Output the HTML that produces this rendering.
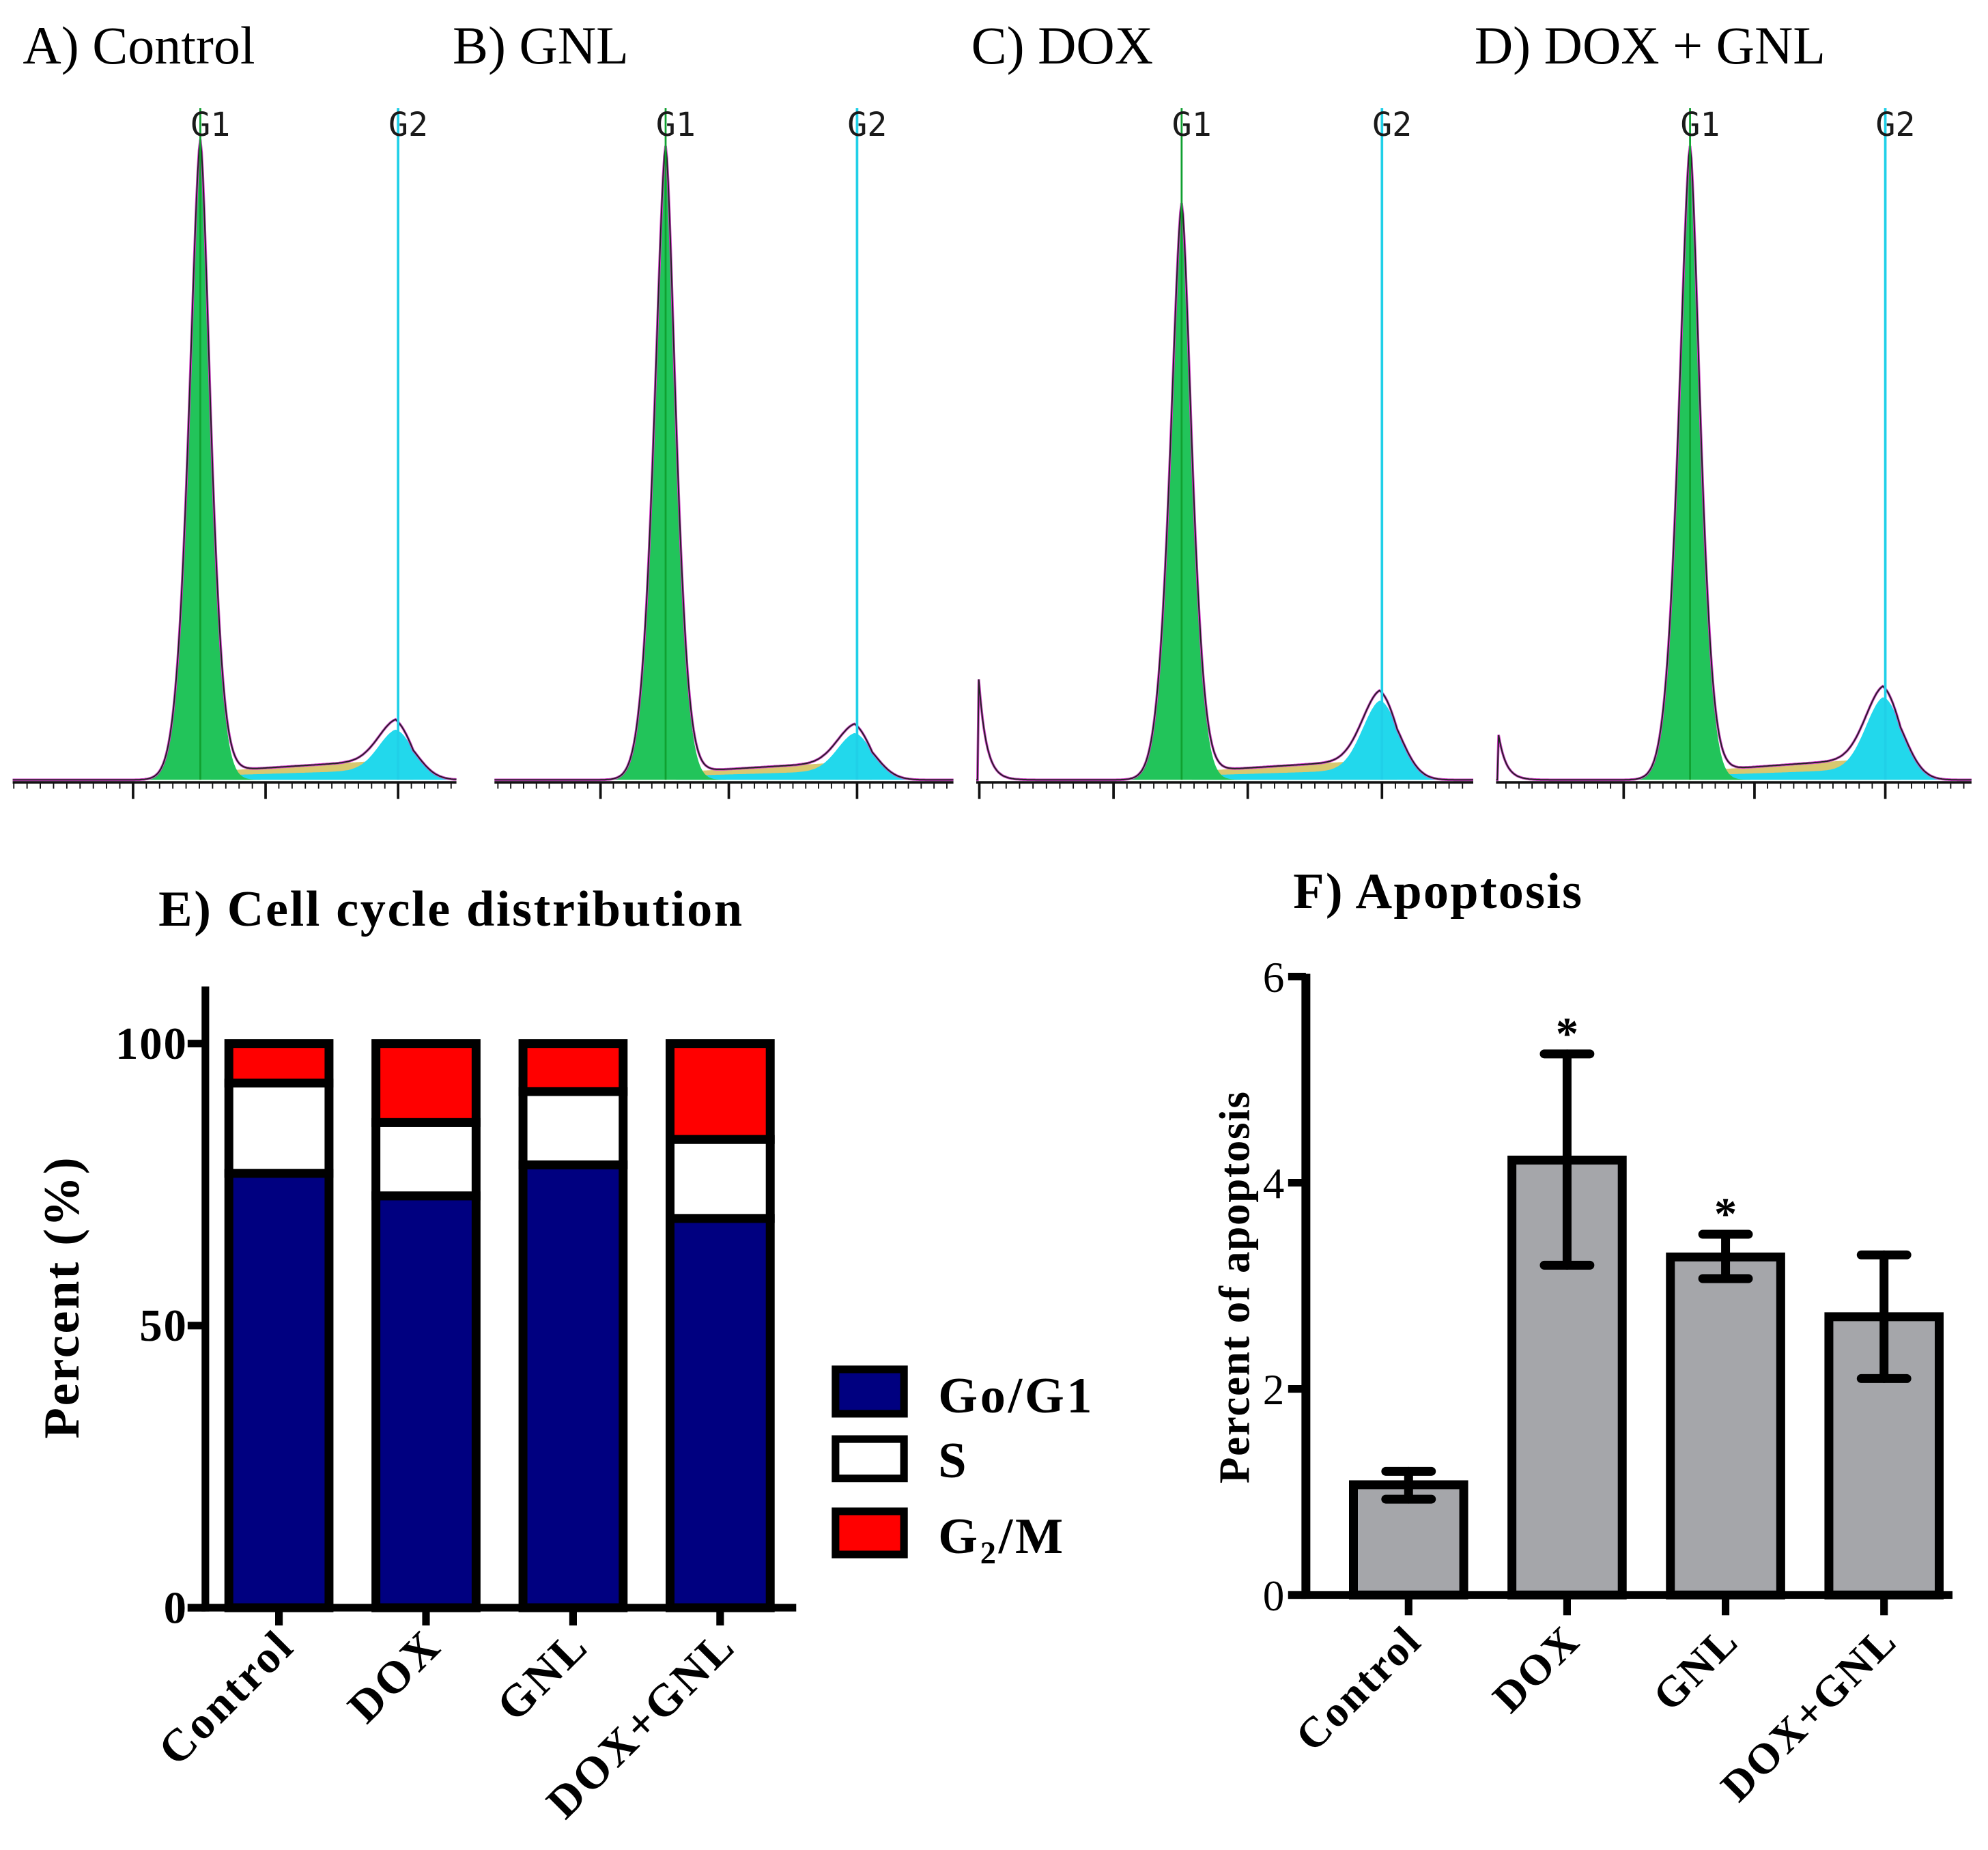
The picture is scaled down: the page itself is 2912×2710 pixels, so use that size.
<!DOCTYPE html>
<html><head><meta charset="utf-8"><style>
html,body{margin:0;padding:0;background:#fff}
svg{display:block}
text{font-family:"Liberation Serif",serif}
text.mono{font-family:"DejaVu Sans Mono",monospace}
</style></head><body>
<svg id="fig" xmlns="http://www.w3.org/2000/svg" width="2912" height="2710" viewBox="0 0 1568 1459">
<rect width="1568" height="1459" fill="#fff"/>
<text x="18" y="50" font-size="42">A) Control</text>
<text x="357" y="50" font-size="42">B) GNL</text>
<text x="766" y="50" font-size="42">C) DOX</text>
<text x="1163" y="50" font-size="42">D) DOX + GNL</text>
<g id="hist"></g>
<text x="125" y="730" font-size="40" font-weight="bold" letter-spacing="1.4">E) Cell cycle distribution</text>
<g id="chartE"></g>
<text x="1020" y="716" font-size="40" font-weight="bold" letter-spacing="1.2">F) Apoptosis</text>
<g id="chartF"></g>
</svg>
<script>
// Histogram panels (flow cytometry)
const histNames = ['control','gnl','dox','dox-gnl'];
const histX0 = [10, 390, 770, 1180];
const histX1 = [360, 752, 1162, 1555];
const histG1 = [158, 525, 932, 1333];
const histG2 = [314, 676, 1090, 1487];
const histG1Top = [110, 115, 160, 115];
const histG2Top = [583, 585, 560, 558];
const histSLevel = [604, 605, 604, 603];
const histDebris = [0, 0, 548, 585];
// Cell cycle distribution (%)
const eCats = ['Control','DOX','GNL','DOX+GNL'];
const eG1 = [77, 73, 78.5, 69];
const eS = [16, 13, 13, 14];
const eG2 = [7, 14, 8.5, 17];
const eTicks = [0, 50, 100];
// Apoptosis
const fCats = ['Control','DOX','GNL','DOX+GNL'];
const fVals = [1.07, 4.22, 3.28, 2.7];
const fLow = [0.93, 3.2, 3.07, 2.1];
const fHigh = [1.2, 5.25, 3.5, 3.3];
const fStar = [false, true, true, false];
const fTicks = [0, 2, 4, 6];

const NS='http://www.w3.org/2000/svg';
function mk(tag, attrs, parent){const e=document.createElementNS(NS,tag);for(const k in attrs)e.setAttribute(k,attrs[k]);parent.appendChild(e);return e;}

// Histograms
const hg=document.getElementById('hist');
const base=615;
histNames.forEach((nm,i)=>{
  const g=mk('g',{},hg);
  
  
  const g1=histG1[i], g2=histG2[i], x0=histX0[i], x1=histX1[i];
  const h1=base-histG1Top[i], h2=base-histG2Top[i], hs=base-histSLevel[i];
  const f1=x=>{const d=x-g1;const s=d<0?11:10;return h1*Math.exp(-Math.pow(Math.abs(d)/s,1.6)/1.3);};
  const f2=x=>h2*Math.exp(-((x-g2)**2)/(2*15*15));
  const fs=x=>{if(x<g1+8||x>g2+12)return 0;const t=(x-g1-8)/(g2-g1);return hs*(0.6+0.9*t)*Math.min(1,(g2+12-x)/14,(x-g1-8)/6);};
  const fd=x=>histDebris[i]?(base-histDebris[i])*Math.exp(-(x-x0-3)/6)*(x>=x0+2?1:0):0;
  let ps='',pg='',pc='',pt='';
  for(let x=x0;x<=x1;x+=1){
    ps+=(x===x0?'M':'L')+x+','+(base-fs(x)).toFixed(1);
    pg+=(x===x0?'M':'L')+x+','+(base-f1(x)).toFixed(1);
    pc+=(x===x0?'M':'L')+x+','+(base-f2(x)-0.5*fs(x)).toFixed(1);
    pt+=(x===x0?'M':'L')+x+','+(base-f1(x)-f2(x)-fs(x)-fd(x)).toFixed(1);
  }
  const close='L'+x1+','+base+'L'+x0+','+base+'Z';
  const s=mk('path',{d:ps+close,fill:'#d8c870'},g);
  
  
  const c=mk('path',{d:pc+close,fill:'#22d8ec'},g);
  
  
  const gr=mk('path',{d:pg+close,fill:'#22c45a'},g);
  
  
  mk('path',{d:pt,fill:'none',stroke:'#d040c8','stroke-width':2},g);
  mk('path',{d:pt,fill:'none',stroke:'#222','stroke-width':1},g);
  mk('line',{x1:g1,y1:85,x2:g1,y2:base,stroke:'#10a030','stroke-width':1.5},g);
  mk('line',{x1:g2,y1:85,x2:g2,y2:base,stroke:'#20d0e8','stroke-width':2},g);
  const t1=mk('text',{x:g1+8,y:107,'font-size':26,'text-anchor':'middle',class:'mono',fill:'#1a1a1a'},g);
  t1.textContent='G1';
  
  
  const t2=mk('text',{x:g2+8,y:107,'font-size':26,'text-anchor':'middle',class:'mono',fill:'#1a1a1a'},g);
  t2.textContent='G2';
  
  
  mk('line',{x1:x0,y1:base+2,x2:x1,y2:base+2,stroke:'#111','stroke-width':2},g);
  const maj=(g2-g1)*0.67;
  for(let k=-4;k<=4;k++){
    const mx=g2+k*maj; if(mx<x0||mx>x1)continue;
    mk('line',{x1:mx,y1:base+2,x2:mx,y2:base+15,stroke:'#111','stroke-width':2},g);
    for(let m=1;m<10;m++){const nx=mx+m*maj/10;if(nx>x1)break;mk('line',{x1:nx,y1:base+2,x2:nx,y2:base+7,stroke:'#111','stroke-width':1},g);}
    if(mx-maj<x0){for(let m=1;m<10;m++){const nx=mx-m*maj/10;if(nx<x0)break;mk('line',{x1:nx,y1:base+2,x2:nx,y2:base+7,stroke:'#111','stroke-width':1},g);}}
  }
});

// Chart E
const E=document.getElementById('chartE');
const eY=v=>1268-v*4.45;
const eX=i=>220+i*116;
const bw=79, sw=7;
eCats.forEach((c,i)=>{
  const x=eX(i)-bw/2;
  const segs=[[0,eG1[i],'#000080','go-g1'],[eG1[i],eG1[i]+eS[i],'#ffffff','s'],[eG1[i]+eS[i],eG1[i]+eS[i]+eG2[i],'#ff0000','g2-m']];
  segs.forEach(sg=>{
    const r=mk('rect',{x:x,y:eY(sg[1]),width:bw,height:eY(sg[0])-eY(sg[1]),fill:sg[2],stroke:'#000','stroke-width':sw},E);
    
    
  });
  mk('line',{x1:eX(i),y1:1268,x2:eX(i),y2:1282,stroke:'#000','stroke-width':6},E);
  const t=mk('text',{x:eX(i)+14,y:1300,'font-size':36,'font-weight':'bold','letter-spacing':2,'text-anchor':'end',transform:'rotate(-45 '+(eX(i)+14)+' 1300)'},E);
  t.textContent=c;
  
  
});
mk('line',{x1:162,y1:778,x2:162,y2:1271,stroke:'#000','stroke-width':6},E);
mk('line',{x1:148,y1:1268,x2:628,y2:1268,stroke:'#000','stroke-width':6},E);
eTicks.forEach(v=>{
  mk('line',{x1:148,y1:eY(v),x2:162,y2:eY(v),stroke:'#000','stroke-width':6},E);
  const t=mk('text',{x:148,y:eY(v)+12,'font-size':36,'font-weight':'bold','letter-spacing':1,'text-anchor':'end'},E);
  t.textContent=v;
  
  
});
const ey=mk('text',{x:62,y:1023,'font-size':40,'font-weight':'bold','letter-spacing':1.5,'text-anchor':'middle',transform:'rotate(-90 62 1023)'},E);
ey.textContent='Percent (%)';


const leg=[['#000080','Go/G1',1080,1115],['#ffffff','S',1135,1166],['#ff0000','G2/M',1192,1226]];
leg.forEach((l,k)=>{
  const r=mk('rect',{x:659,y:l[2],width:54,height:l[3]-l[2],fill:l[0],stroke:'#000','stroke-width':6},E);
  
  
  const t=mk('text',{x:740,y:l[3]-1,'font-size':40,'font-weight':'bold','letter-spacing':2},E);
  if(l[1]==='G2/M'){t.innerHTML='G<tspan font-size="25" dy="8">2</tspan><tspan dy="-8">/M</tspan>';}
  else t.textContent=l[1];
  
  
});

// Chart F
const F=document.getElementById('chartF');
const fY=v=>1258-v*81.3;
const fX=i=>1111+i*125;
const fw=87;
fCats.forEach((c,i)=>{
  const x=fX(i)-fw/2;
  const r=mk('rect',{x:x,y:fY(fVals[i]),width:fw,height:fY(0)-fY(fVals[i]),fill:'#a5a6aa',stroke:'#000','stroke-width':sw},F);
  
  
  const eg=mk('g',{stroke:'#000','stroke-width':7,'stroke-linecap':'round'},F);
  
  
  mk('line',{x1:fX(i),y1:fY(fLow[i]),x2:fX(i),y2:fY(fHigh[i])},eg);
  mk('line',{x1:fX(i)-18,y1:fY(fLow[i]),x2:fX(i)+18,y2:fY(fLow[i])},eg);
  mk('line',{x1:fX(i)-18,y1:fY(fHigh[i]),x2:fX(i)+18,y2:fY(fHigh[i])},eg);
  if(fStar[i]){
    const s=mk('text',{x:fX(i),y:fY(fHigh[i])-4,'font-size':36,'font-weight':'bold','text-anchor':'middle'},F);
    s.textContent='*';
    
    
  }
  mk('line',{x1:fX(i),y1:1258,x2:fX(i),y2:1274,stroke:'#000','stroke-width':6},F);
  const t=mk('text',{x:fX(i)+12,y:1296,'font-size':34,'font-weight':'bold','letter-spacing':1.5,'text-anchor':'end',transform:'rotate(-45 '+(fX(i)+12)+' 1296)'},F);
  t.textContent=c;
  
  
});
mk('line',{x1:1030,y1:768,x2:1030,y2:1261,stroke:'#000','stroke-width':7},F);
mk('line',{x1:1016,y1:1258,x2:1540,y2:1258,stroke:'#000','stroke-width':6},F);
fTicks.forEach(v=>{
  mk('line',{x1:1016,y1:fY(v),x2:1030,y2:fY(v),stroke:'#000','stroke-width':6},F);
  const t=mk('text',{x:1013,y:fY(v)+12,'font-size':34,'text-anchor':'end'},F);
  t.textContent=v;
  
  
});
const fyT=mk('text',{x:985,y:1015,'font-size':34,'font-weight':'bold','letter-spacing':0.9,'text-anchor':'middle',transform:'rotate(-90 985 1015)'},F);
fyT.textContent='Percent of apoptosis';


</script>
</body></html>
